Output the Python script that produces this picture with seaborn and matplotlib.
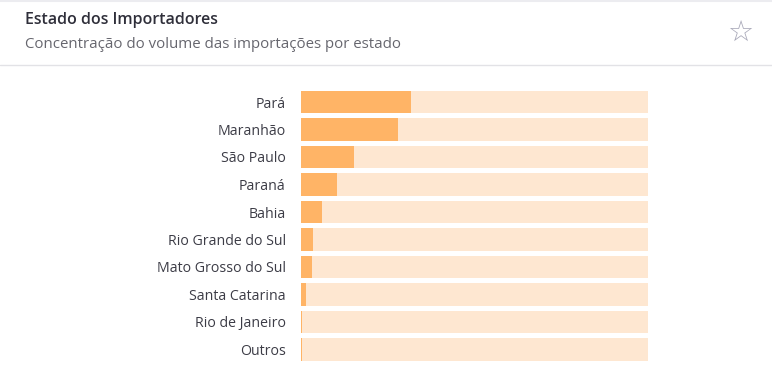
import numpy as np
import pandas as pd
import matplotlib.pyplot as plt
import seaborn as sns

# data
estados = ['Pará', 'Maranhão', 'São Paulo', 'Paraná', 'Bahia',
           'Rio Grande do Sul', 'Mato Grosso do Sul', 'Santa Catarina',
           'Rio de Janeiro', 'Outros']
percentual = [31.7, 28.0, 15.3, 10.4, 6.1, 3.5, 3.2, 1.4, 0.3, 0.3]
total = [100] * len(estados)

df = pd.DataFrame({'estado': estados, 'pct': percentual, 'total': total})

sns.set_theme(style='white')
plt.rcParams['font.family'] = ['Open Sans', 'DejaVu Sans']

fig = plt.figure(figsize=(7.72, 3.91), dpi=100)
fig.patch.set_facecolor('white')

# header
fig.text(25 / 772, 1 - 20 / 391, 'Estado dos Importadores', fontsize=11.5,
         fontweight='semibold', color='#2f2f3a', va='center', ha='left')
fig.text(25 / 772, 1 - 45 / 391, 'Concentração do volume das importações por estado',
         fontsize=10.8, color='#66666e', va='center', ha='left')
fig.text(740 / 772, 1 - 33 / 391, '☆', fontsize=21, color='#a8a8b8',
         va='center', ha='center', family='DejaVu Sans')
fig.add_artist(plt.Line2D([0, 1], [1 - 65 / 391, 1 - 65 / 391],
                          color='#e2e2e6', lw=1))
fig.add_artist(plt.Line2D([0, 1], [1 - 1 / 391, 1 - 1 / 391],
                          color='#ececf0', lw=1.5))

ax = fig.add_axes([301 / 772, 1 - 363.25 / 391, 347 / 772, 275 / 391])
sns.barplot(data=df, x='total', y='estado', color='#fee7d1', width=0.82,
            saturation=1, linewidth=0, ax=ax)
sns.barplot(data=df, x='pct', y='estado', color='#ffb466', width=0.82,
            saturation=1, linewidth=0, ax=ax)

ax.set_xlim(0, 100)
ax.set_ylim(9.5, -0.5)
ax.set_xlabel('')
ax.set_ylabel('')
ax.set_xticks([])
ax.tick_params(axis='y', length=0, pad=11, labelsize=10.2, labelcolor='#3c3c46')
sns.despine(ax=ax, left=True, bottom=True)

fig.savefig('out.png', dpi=100, facecolor='white')
